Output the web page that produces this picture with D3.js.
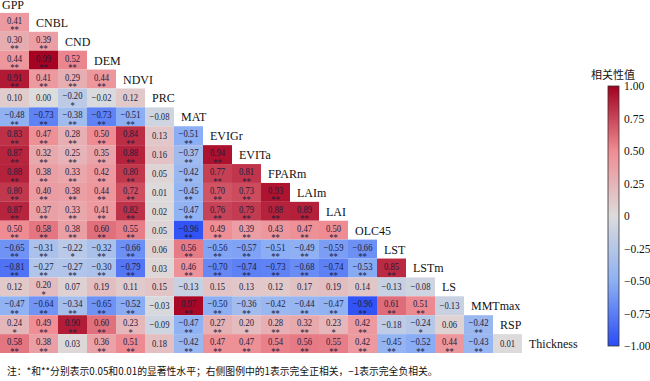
<!DOCTYPE html>
<html>
<head>
<meta charset="utf-8">
<style>
    body { margin: 0; background: white; }
    svg { display: block; font-family: "Liberation Serif", "Times New Roman", serif; }
</style>
</head>
<body>
<svg width="650" height="381"></svg>
<script src="https://d3js.org/d3.v7.min.js"></script>
<script>
    // variables, in matrix order
    var vars = ["GPP", "CNBL", "CND", "DEM", "NDVI", "PRC", "MAT", "EVIGr", "EVITa", "FPARm",
                "LAIm", "LAI", "OLC45", "LST", "LSTm", "LS", "MMTmax", "RSP", "Thickness"];

    // lower triangle, row i holds correlations with vars[0..i-1]
    var rCNBL = [0.41];
    var rCND = [0.30, 0.39];
    var rDEM = [0.44, 0.99, 0.52];
    var rNDVI = [0.91, 0.41, 0.29, 0.44];
    var rPRC = [0.10, 0.00, -0.20, -0.02, 0.12];
    var rMAT = [-0.48, -0.73, -0.38, -0.73, -0.51, -0.08];
    var rEVIGr = [0.83, 0.47, 0.28, 0.50, 0.84, 0.13, -0.51];
    var rEVITa = [0.87, 0.32, 0.25, 0.35, 0.88, 0.16, -0.37, 0.94];
    var rFPARm = [0.88, 0.38, 0.33, 0.42, 0.80, 0.05, -0.42, 0.77, 0.81];
    var rLAIm = [0.80, 0.40, 0.38, 0.44, 0.72, 0.01, -0.45, 0.70, 0.73, 0.93];
    var rLAI = [0.87, 0.37, 0.33, 0.41, 0.82, 0.02, -0.47, 0.76, 0.79, 0.88, 0.89];
    var rOLC45 = [0.50, 0.58, 0.38, 0.60, 0.55, 0.05, -0.96, 0.49, 0.39, 0.43, 0.47, 0.50];
    var rLST = [-0.65, -0.31, -0.22, -0.32, -0.66, 0.06, 0.56, -0.56, -0.57, -0.51, -0.49, -0.59, -0.66];
    var rLSTm = [-0.81, -0.27, -0.27, -0.30, -0.79, 0.03, 0.46, -0.70, -0.74, -0.73, -0.68, -0.74, -0.53, 0.85];
    var rLS = [0.12, 0.20, 0.07, 0.19, 0.11, 0.15, -0.13, 0.15, 0.13, 0.12, 0.17, 0.19, 0.14, -0.13, -0.08];
    var rMMTmax = [-0.47, -0.64, -0.34, -0.65, -0.52, -0.03, 0.97, -0.50, -0.36, -0.42, -0.44, -0.47, -0.96, 0.61, 0.51, -0.13];
    var rRSP = [0.24, 0.49, 0.90, 0.60, 0.23, -0.09, -0.47, 0.27, 0.20, 0.28, 0.32, 0.23, 0.42, -0.18, -0.24, 0.06, -0.42];
    var rThickness = [0.58, 0.38, 0.03, 0.36, 0.51, 0.18, -0.42, 0.47, 0.47, 0.54, 0.56, 0.55, 0.42, -0.45, -0.52, 0.44, -0.43, 0.01];

    // significance marks, same shape ("" none, "*" p<0.05, "**" p<0.01)
    var sCNBL = ["**"];
    var sCND = ["**", "**"];
    var sDEM = ["**", "**", "**"];
    var sNDVI = ["**", "**", "**", "**"];
    var sPRC = ["", "", "*", "", ""];
    var sMAT = ["**", "**", "**", "**", "**", ""];
    var sEVIGr = ["**", "**", "**", "**", "**", "", "**"];
    var sEVITa = ["**", "**", "**", "**", "**", "", "**", "**"];
    var sFPARm = ["**", "**", "**", "**", "**", "", "**", "**", "**"];
    var sLAIm = ["**", "**", "**", "**", "**", "", "**", "**", "**", "**"];
    var sLAI = ["**", "**", "**", "**", "**", "", "**", "**", "**", "**", "**"];
    var sOLC45 = ["**", "**", "**", "**", "**", "", "**", "**", "**", "**", "**", "**"];
    var sLST = ["**", "**", "*", "**", "**", "", "**", "**", "**", "**", "**", "**", "**"];
    var sLSTm = ["**", "**", "**", "**", "**", "", "**", "**", "**", "**", "**", "**", "**", "**"];
    var sLS = ["", "*", "", "", "", "", "", "", "", "", "", "", "", "", ""];
    var sMMTmax = ["**", "**", "**", "**", "**", "", "**", "**", "**", "**", "**", "**", "**", "**", "**", ""];
    var sRSP = ["*", "**", "**", "**", "*", "", "**", "**", "*", "**", "**", "*", "**", "", "*", "", "**"];
    var sThickness = ["**", "**", "", "**", "**", "", "**", "**", "**", "**", "**", "**", "**", "**", "**", "**", "**", ""];

    var rows = [[], rCNBL, rCND, rDEM, rNDVI, rPRC, rMAT, rEVIGr, rEVITa, rFPARm, rLAIm, rLAI,
                rOLC45, rLST, rLSTm, rLS, rMMTmax, rRSP, rThickness];
    var stars = [[], sCNBL, sCND, sDEM, sNDVI, sPRC, sMAT, sEVIGr, sEVITa, sFPARm, sLAIm, sLAI,
                 sOLC45, sLST, sLSTm, sLS, sMMTmax, sRSP, sThickness];

    var legendTicks = [1.00, 0.75, 0.50, 0.25, 0, -0.25, -0.50, -0.75, -1.00];
    var legendTitle = "相关性值";
    var note = "注：*和**分别表示0.05和0.01的显著性水平；右侧图例中的1表示完全正相关，−1表示完全负相关。";

    var svg = d3.select("svg");
    var textColor = "#1c1c3c";

    var x = d3.scaleBand().domain(vars).range([0, 551]);
    var y = d3.scaleBand().domain(vars).range([-6, 353]);

    var color = d3.scaleLinear()
        .domain([-1, -0.5, 0, 0.5, 1])
        .range(["#2a4cf6", "#8db0f4", "#dcdcdc", "#ef8c93", "#a3001f"])
        .clamp(true);

    var cells = [];
    rows.forEach(function(r, i) {
        r.forEach(function(v, j) {
            cells.push({ row: vars[i], col: vars[j], v: v, s: stars[i][j] });
        });
    });

    var fmt = function(v) { return d3.format(".2f")(v).replace("-", "−"); };

    var g = svg.append("g");
    var cell = g.selectAll("g.cell").data(cells).enter().append("g").attr("class", "cell");
    cell.append("rect")
        .attr("x", function(d) { return x(d.col); })
        .attr("y", function(d) { return y(d.row); })
        .attr("width", x.bandwidth())
        .attr("height", y.bandwidth())
        .attr("fill", function(d) { return color(d.v); });
    // value text, a bit narrow like the original
    cell.append("text")
        .attr("transform", function(d) {
            var yy = y(d.row) + (d.s ? 11 : 13);
            return "translate(" + (x(d.col) + x.bandwidth() / 2) + "," + yy + ") scale(0.82,1)";
        })
        .attr("text-anchor", "middle")
        .attr("font-size", "10.5px")
        .attr("fill", textColor)
        .text(function(d) { return fmt(d.v); });
    cell.append("text")
        .attr("transform", function(d) {
            return "translate(" + (x(d.col) + x.bandwidth() / 2) + "," + (y(d.row) + 20.5) + ") scale(0.85,1)";
        })
        .attr("text-anchor", "middle")
        .attr("font-size", "10px")
        .attr("fill", textColor)
        .text(function(d) { return d.s; });

    // diagonal labels
    g.selectAll("text.lab").data(vars).enter().append("text")
        .attr("class", "lab")
        .attr("x", function(d, i) { return x(d) + (i === 0 ? 2 : 7); })
        .attr("y", function(d, i) { return y(d) + y.bandwidth() / 2 + (i === 0 ? 5.5 : 4.5); })
        .attr("font-size", "12px")
        .attr("fill", "#111")
        .text(function(d) { return d; });

    // colour bar
    var cb = d3.scaleLinear().domain([-1, 1]).range([346, 86]);
    var defs = svg.append("defs");
    var grad = defs.append("linearGradient").attr("id", "cbar")
        .attr("x1", 0).attr("y1", 1).attr("x2", 0).attr("y2", 0);
    d3.range(0, 1.0001, 0.05).forEach(function(t) {
        grad.append("stop").attr("offset", t).attr("stop-color", color(-1 + 2 * t));
    });
    svg.append("rect")
        .attr("x", 608).attr("y", cb(1))
        .attr("width", 11).attr("height", cb(-1) - cb(1))
        .attr("fill", "url(#cbar)")
        .attr("stroke", "#333").attr("stroke-width", 0.8);
    var cbAxis = svg.append("g").attr("transform", "translate(619,0)")
        .call(d3.axisRight(cb).tickValues(legendTicks).tickSize(0).tickPadding(5)
            .tickFormat(function(d) { return d === 0 ? "0" : fmt(d); }));
    cbAxis.select(".domain").remove();
    cbAxis.selectAll("text")
        .attr("font-family", "'Liberation Serif', serif")
        .attr("font-size", "11.5px")
        .attr("fill", "#111");

    svg.append("text")
        .attr("x", 613).attr("y", 79)
        .attr("text-anchor", "middle")
        .attr("font-family", "'Noto Sans CJK SC', sans-serif")
        .attr("font-size", "11px")
        .attr("fill", "#111")
        .text(legendTitle);

    svg.append("text")
        .attr("x", 7).attr("y", 375)
        .attr("font-family", "'Noto Sans CJK SC', serif")
        .attr("font-size", "9.8px")
        .attr("fill", "#111")
        .text(note);
</script>
</body>
</html>
